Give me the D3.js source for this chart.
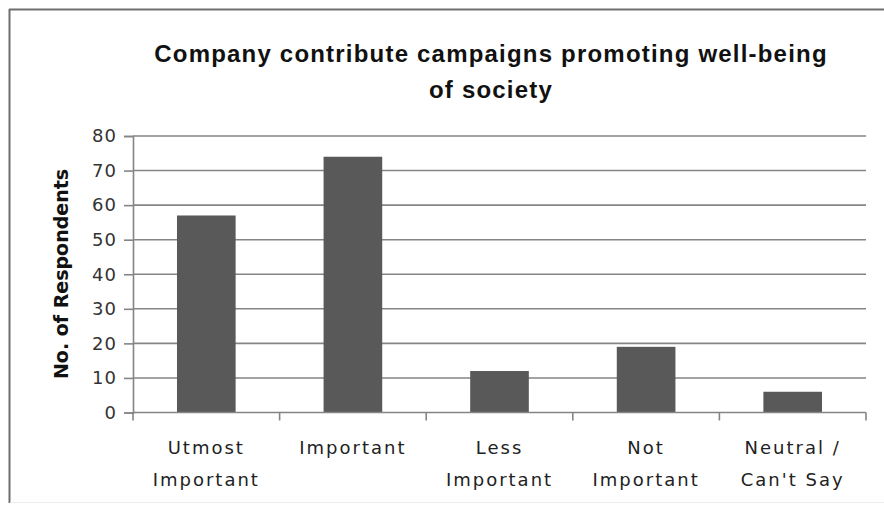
<!DOCTYPE html>
<html>
<head>
<meta charset="utf-8">
<script src="https://cdn.jsdelivr.net/npm/d3@7/dist/d3.min.js"></script>
<style>
  html, body { margin: 0; padding: 0; background: #fff; }
  svg { display: block; }
</style>
</head>
<body>
<svg id="chart" width="884" height="506"></svg>
<script>
// Survey responses: each category label split into its printed lines
const categories = [
  ["Utmost", "Important"],
  ["Important"],
  ["Less", "Important"],
  ["Not", "Important"],
  ["Neutral /", "Can't Say"]
];
const respondents = [57, 74, 12, 19, 6];
const yTicks = [0, 10, 20, 30, 40, 50, 60, 70, 80];
const titleLines = ["Company contribute campaigns promoting well-being", "of society"];
const yTitle = "No. of Respondents";

const svg = d3.select("#chart");
const W = 884, H = 506;
const plot = { left: 133, right: 866, top: 136, bottom: 412.5 };

// outer frame: strong left/top edges, faint right/bottom edges
svg.append("line").attr("x1", 9.5).attr("x2", 9.5).attr("y1", 9).attr("y2", 503)
  .attr("stroke", "#6e6e6e").attr("stroke-width", 2);
svg.append("line").attr("x1", 9).attr("x2", W).attr("y1", 9.5).attr("y2", 9.5)
  .attr("stroke", "#6e6e6e").attr("stroke-width", 2);
svg.append("line").attr("x1", 10).attr("x2", W).attr("y1", 502.5).attr("y2", 502.5)
  .attr("stroke", "#ececec").attr("stroke-width", 1);

const keys = categories.map(c => c.join(" "));
const x = d3.scaleBand().domain(keys).range([plot.left, plot.right])
  .paddingInner(0.6).paddingOuter(0.3);
const y = d3.scaleLinear().domain([0, 80]).range([plot.bottom, plot.top]);

// horizontal gridlines
svg.append("g").selectAll("line").data(yTicks.filter(t => t > 0)).join("line")
  .attr("x1", plot.left).attr("x2", plot.right)
  .attr("y1", d => y(d)).attr("y2", d => y(d))
  .attr("stroke", "#858585").attr("stroke-width", 1.6);

// bars
svg.append("g").selectAll("rect").data(respondents).join("rect")
  .attr("x", (d, i) => x(keys[i]))
  .attr("width", x.bandwidth())
  .attr("y", d => y(d))
  .attr("height", d => y(0) - y(d))
  .attr("fill", "#595959");

// y axis
const yAxis = svg.append("g").attr("transform", `translate(${plot.left},0)`)
  .call(d3.axisLeft(y).tickValues(yTicks).tickSize(9).tickPadding(7).tickFormat(d3.format("d")));
yAxis.select(".domain").attr("stroke", "#858585").attr("stroke-width", 1.6);
yAxis.selectAll(".tick line").attr("stroke", "#858585").attr("stroke-width", 1.6);
yAxis.selectAll(".tick text")
  .attr("font-family", "DejaVu Sans").attr("font-size", 18)
  .attr("letter-spacing", 1).attr("fill", "#333");

// x axis with boundary ticks between categories
const step = (plot.right - plot.left) / categories.length;
const xAxisG = svg.append("g");
xAxisG.append("line")
  .attr("x1", plot.left).attr("x2", plot.right)
  .attr("y1", plot.bottom).attr("y2", plot.bottom)
  .attr("stroke", "#858585").attr("stroke-width", 1.6);
xAxisG.selectAll("line.b").data(d3.range(categories.length + 1)).join("line")
  .attr("class", "b")
  .attr("x1", i => plot.left + i * step).attr("x2", i => plot.left + i * step)
  .attr("y1", plot.bottom).attr("y2", plot.bottom + 8)
  .attr("stroke", "#858585").attr("stroke-width", 1.6);

const labels = svg.append("g").selectAll("text").data(categories).join("text")
  .attr("x", (d, i) => x(keys[i]) + x.bandwidth() / 2)
  .attr("y", 454)
  .attr("text-anchor", "middle")
  .attr("font-family", "DejaVu Sans").attr("font-size", 18)
  .attr("letter-spacing", 2).attr("fill", "#222");
labels.selectAll("tspan").data(d => d).join("tspan")
  .attr("x", function () { return d3.select(this.parentNode).attr("x"); })
  .attr("dy", (d, i) => i === 0 ? 0 : 32)
  .text(d => d);

// y axis title
svg.append("text")
  .attr("transform", `translate(68,${(168 + 380) / 2}) rotate(-90)`)
  .attr("text-anchor", "middle")
  .attr("font-family", "DejaVu Sans").attr("font-weight", "bold")
  .attr("font-size", 19).attr("fill", "#111")
  .text(yTitle);

// chart title
svg.append("text")
  .attr("x", 491).attr("y", 62)
  .attr("text-anchor", "middle")
  .attr("font-family", "Liberation Sans").attr("font-weight", "bold")
  .attr("font-size", 24).attr("letter-spacing", 1.2).attr("fill", "#111")
  .selectAll("tspan").data(titleLines).join("tspan")
  .attr("x", 491).attr("dy", (d, i) => i === 0 ? 0 : 36)
  .text(d => d);
</script>
</body>
</html>
